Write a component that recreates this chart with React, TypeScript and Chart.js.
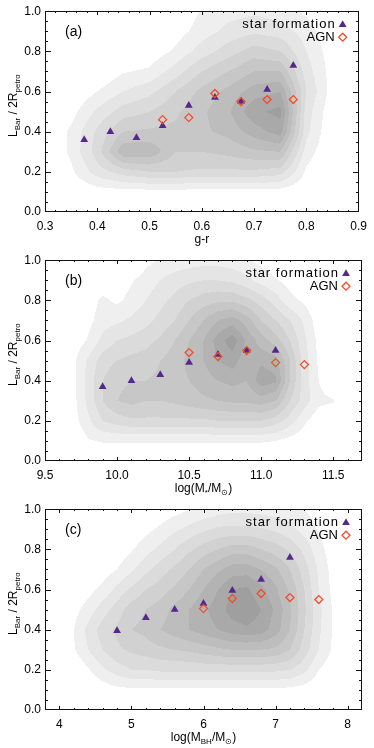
import React, { useEffect, useRef } from "react";
import { Chart, registerables } from "chart.js";

Chart.register(...registerables);

const FONT = "'Liberation Sans', Arial, Helvetica, sans-serif";
const SF_COLOR = "#55288c";
const AGN_COLOR = "#f04e2c";
const GREYS = ["#efefef", "#e5e5e5", "#dbdbdb", "#d1d1d1", "#c7c7c7", "#bdbdbd", "#b3b3b3", "#a9a9a9", "#9f9f9f", "#959595"];

const SF_LABEL = "star formation";
const AGN_LABEL = "AGN";
const Y_TITLE = [
  { t: "L" },
  { t: "Bar", sub: true },
  { t: " / 2R" },
  { t: "petro", sub: true },
];

const yTicks = [0, 0.2, 0.4, 0.6, 0.8, 1.0];
const densityY = [0, 0.1, 0.2, 0.3, 0.4, 0.5, 0.6, 0.7, 0.8, 0.9, 1.0];

// ---------- panel (a): g-r ----------
const grTicks = [0.3, 0.4, 0.5, 0.6, 0.7, 0.8, 0.9];
const grSFx = [0.375, 0.425, 0.475, 0.525, 0.575, 0.625, 0.675, 0.725, 0.775];
const grSFy = [0.36, 0.4, 0.37, 0.43, 0.53, 0.57, 0.55, 0.61, 0.73];
const grAGNx = [0.525, 0.575, 0.625, 0.675, 0.725, 0.775];
const grAGNy = [0.46, 0.47, 0.59, 0.55, 0.56, 0.56];
const grDensityX = [0.3, 0.35, 0.4, 0.45, 0.5, 0.55, 0.6, 0.65, 0.7, 0.75, 0.8, 0.85, 0.9];
const grDensity = [
  [0, 0, 0, 0, 0, 0, 0, 0, 0, 0, 0, 0, 0],
  [0, 0, 0.5, 0.6, 0.6, 0.6, 0.6, 0.6, 0.6, 0.5, 0.2, 0, 0],
  [0, 0.8, 2.5, 3.5, 4, 4, 3.8, 3.8, 3.8, 3.5, 0.8, 0, 0],
  [0, 1.2, 3.5, 6.8, 6.8, 5, 5, 5.3, 5.8, 6, 1.5, 0, 0],
  [0, 1.2, 3.2, 5, 5.2, 5.3, 5.8, 6.3, 7.5, 8.5, 2.3, 0, 0],
  [0, 0.6, 2.2, 3.5, 4, 4.8, 5.8, 6.8, 8.8, 9.3, 2.5, 0.2, 0],
  [0, 0, 1.0, 2, 2.7, 4, 5.3, 6.3, 7.5, 8, 3, 0.5, 0],
  [0, 0, 0, 0.9, 1.2, 2.5, 4, 5, 6, 6, 2.5, 0.5, 0],
  [0, 0, 0, 0, 0.3, 1.2, 2.5, 3.5, 4.5, 4, 2, 0.4, 0],
  [0, 0, 0, 0, 0, 0.5, 1.5, 2.3, 2.8, 2.5, 1.5, 0.2, 0],
  [0, 0, 0, 0, 0, 0, 1.1, 1.6, 1.8, 1.5, 0.8, 0, 0],
];

// ---------- panel (b): stellar mass ----------
const msTicks = [9.5, 10.0, 10.5, 11.0, 11.5];
const msSFx = [9.9, 10.1, 10.3, 10.5, 10.7, 10.9, 11.1];
const msSFy = [0.37, 0.4, 0.43, 0.49, 0.53, 0.55, 0.55];
const msAGNx = [10.5, 10.7, 10.9, 11.1, 11.3];
const msAGNy = [0.54, 0.52, 0.55, 0.49, 0.48];
const msDensityX = [9.5, 9.6, 9.7, 9.8, 9.9, 10.0, 10.1, 10.2, 10.3, 10.4, 10.5, 10.6, 10.7, 10.8, 10.9, 11.0, 11.1, 11.2, 11.3, 11.4, 11.5, 11.6, 11.7];
const msDensity = [
  [0, 0, 0, 0, 0, 0, 0, 0, 0, 0, 0, 0, 0, 0, 0, 0, 0, 0, 0, 0, 0, 0, 0],
  [0, 0, 0, 0.9, 1.1, 1.1, 1.1, 1.1, 1.1, 1.1, 1.1, 1.1, 1.1, 1.1, 1.1, 1.1, 1.0, 0.6, 0.3, 0, 0, 0, 0],
  [0, 0, 0.6, 1.8, 3, 3.5, 3.8, 3.8, 3.8, 3.8, 3.8, 3.8, 4, 4, 4, 4, 3.5, 2.5, 1.2, 0.3, 0, 0, 0],
  [0, 0, 0.7, 2.3, 4, 5, 5.3, 5, 5, 5.2, 5.5, 5.8, 6, 6.2, 6.2, 6.5, 6, 4, 2.5, 1.3, 1.1, 0, 0],
  [0, 0, 0.8, 2.4, 4, 4.8, 5, 5, 5.2, 5.5, 6, 6.5, 7, 7.3, 7, 8.6, 8.2, 5, 2.5, 1.0, 0, 0, 0],
  [0, 0, 0.8, 2.2, 3.5, 4, 4.3, 4.5, 5, 5.5, 6.3, 7, 8, 8.5, 7.3, 7.8, 7.5, 5, 2.5, 0.8, 0, 0, 0],
  [0, 0, 0.4, 1.1, 2.3, 3, 3.3, 3.6, 4.2, 5, 6, 7, 8.5, 9.6, 7.8, 6.5, 5.5, 4, 2.2, 0.7, 0, 0, 0],
  [0, 0, 0, 0.7, 1.5, 1.8, 2.2, 2.7, 3.3, 4, 5, 6, 7, 7.5, 6.5, 5, 4, 3, 1.8, 0.4, 0, 0, 0],
  [0, 0, 0, 0.5, 1.2, 0.8, 1.3, 2, 2.7, 3.3, 4, 4.5, 4.8, 4.8, 4.3, 3.5, 2.5, 1.3, 0.8, 0, 0, 0, 0],
  [0, 0, 0, 0, 0.3, 0.5, 0.9, 1.4, 2, 2.5, 2.8, 3, 3, 2.8, 2.3, 1.6, 1.1, 0.6, 0.2, 0, 0, 0, 0],
  [0, 0, 0, 0, 0, 0, 0, 0.7, 1.1, 1.3, 1.5, 1.6, 1.6, 1.4, 1.1, 0.7, 0.3, 0, 0, 0, 0, 0, 0],
];

// ---------- panel (c): black hole mass ----------
const bhTicks = [4, 5, 6, 7, 8];
const bhSFx = [4.8, 5.2, 5.6, 6.0, 6.4, 6.8, 7.2];
const bhSFy = [0.395, 0.46, 0.5, 0.53, 0.595, 0.65, 0.76];
const bhAGNx = [6.0, 6.4, 6.8, 7.2, 7.6];
const bhAGNy = [0.505, 0.555, 0.58, 0.56, 0.55];
const bhDensityX = [3.8, 4.0, 4.2, 4.4, 4.6, 4.8, 5.0, 5.2, 5.4, 5.6, 5.8, 6.0, 6.2, 6.4, 6.6, 6.8, 7.0, 7.2, 7.4, 7.6, 7.8, 8.0, 8.2];
const bhDensity = [
  [0, 0, 0, 0, 0, 0, 0, 0, 0, 0, 0, 0, 0, 0, 0, 0, 0, 0, 0, 0, 0, 0, 0],
  [0, 0, 0, 0, 0.4, 0.7, 0.8, 0.8, 0.8, 0.8, 0.8, 0.8, 0.8, 0.8, 0.8, 0.8, 0.8, 0.7, 0.5, 0.2, 0, 0, 0],
  [0, 0, 0, 0.9, 1.8, 2.5, 3, 3, 3.2, 3.2, 3.2, 3.3, 3.3, 3.3, 3.3, 3.3, 3.2, 3, 2.3, 1.0, 0.3, 0, 0],
  [0, 0, 0.9, 2, 3, 3.8, 4.2, 4.5, 4.8, 5, 5.2, 5.5, 5.8, 6, 6, 6, 5.8, 5, 3.5, 2, 0.8, 0, 0],
  [0, 0, 1.0, 2.3, 3.5, 4.2, 5, 5.3, 6, 6.5, 7, 7.5, 8, 8.5, 8.8, 8.5, 7.5, 6, 4, 2.2, 0.9, 0, 0],
  [0, 0, 0.6, 1.5, 2.5, 3.5, 4.5, 5, 5.5, 6.3, 7, 7.8, 8.5, 9.5, 9.8, 9, 7.8, 6.2, 4.2, 2.3, 0.9, 0, 0],
  [0, 0, 0, 0.6, 1.3, 2.3, 3.2, 4, 4.5, 5.2, 6, 7, 8, 9, 9.2, 8.3, 7.2, 5.8, 4, 2, 0.7, 0, 0],
  [0, 0, 0, 0, 0.4, 1.0, 1.8, 2.7, 3.5, 4.2, 5, 6, 6.8, 7.5, 7.5, 7, 6.2, 5, 3.5, 1.8, 0.6, 0, 0],
  [0, 0, 0, 0, 0, 0.3, 0.9, 1.6, 2.3, 3, 3.8, 4.5, 5, 5.5, 5.5, 5, 4.5, 3.8, 2.7, 1.4, 0.4, 0, 0],
  [0, 0, 0, 0, 0, 0, 0.2, 0.7, 1.2, 1.8, 2.3, 2.8, 3.2, 3.3, 3.3, 3.1, 2.8, 2.3, 1.6, 0.9, 0.2, 0, 0],
  [0, 0, 0, 0, 0, 0, 0, 0, 0.3, 0.6, 0.9, 1.2, 1.5, 1.7, 1.7, 1.6, 1.5, 1.3, 1.0, 0.5, 0, 0, 0],
];

type Seg = { t: string; sub?: boolean };
type Panel = {
  tag: string;
  xMin: number;
  xMax: number;
  xTicks: number[];
  xMinor: number;
  xDec: number;
  xTitle: Seg[];
  sfX: number[];
  sfY: number[];
  agnX: number[];
  agnY: number[];
  gx: number[];
  gz: number[][];
};

const PANELS: Panel[] = [
  {
    tag: "(a)", xMin: 0.3, xMax: 0.9, xTicks: grTicks, xMinor: 0.02, xDec: 1,
    xTitle: [{ t: "g-r" }],
    sfX: grSFx, sfY: grSFy, agnX: grAGNx, agnY: grAGNy, gx: grDensityX, gz: grDensity,
  },
  {
    tag: "(b)", xMin: 9.5, xMax: 11.7, xTicks: msTicks, xMinor: 0.1, xDec: 1,
    xTitle: [{ t: "log(M" }, { t: "*", sub: true }, { t: "/M" }, { t: "\u2299", sub: true }, { t: ")" }],
    sfX: msSFx, sfY: msSFy, agnX: msAGNx, agnY: msAGNy, gx: msDensityX, gz: msDensity,
  },
  {
    tag: "(c)", xMin: 3.8, xMax: 8.2, xTicks: bhTicks, xMinor: 0.2, xDec: 0,
    xTitle: [{ t: "log(M" }, { t: "BH", sub: true }, { t: "/M" }, { t: "\u2299", sub: true }, { t: ")" }],
    sfX: bhSFx, sfY: bhSFy, agnX: bhAGNx, agnY: bhAGNy, gx: bhDensityX, gz: bhDensity,
  },
];

function interp(gx: number[], gy: number[], gz: number[][], x: number, y: number): number {
  if (x < gx[0] || x > gx[gx.length - 1] || y < gy[0] || y > gy[gy.length - 1]) return 0;
  let i = 0;
  while (i < gx.length - 2 && x > gx[i + 1]) i++;
  let j = 0;
  while (j < gy.length - 2 && y > gy[j + 1]) j++;
  const tx = (x - gx[i]) / (gx[i + 1] - gx[i]);
  const ty = (y - gy[j]) / (gy[j + 1] - gy[j]);
  const z00 = gz[j][i], z10 = gz[j][i + 1], z01 = gz[j + 1][i], z11 = gz[j + 1][i + 1];
  return (z00 * (1 - tx) + z10 * tx) * (1 - ty) + (z01 * (1 - tx) + z11 * tx) * ty;
}

function drawSegs(ctx: CanvasRenderingContext2D, segs: Seg[], cx: number, cy: number, size: number) {
  const subSize = Math.round(size * 0.7);
  let total = 0;
  for (const s of segs) {
    ctx.font = `${s.sub ? subSize : size}px ${FONT}`;
    total += ctx.measureText(s.t).width;
  }
  let x = cx - total / 2;
  const base = cy + size * 0.36;
  ctx.textAlign = "left";
  ctx.textBaseline = "alphabetic";
  for (const s of segs) {
    ctx.font = `${s.sub ? subSize : size}px ${FONT}`;
    ctx.fillText(s.t, x, s.sub ? base + size * 0.25 : base);
    x += ctx.measureText(s.t).width;
  }
}

function makePlugin(p: Panel) {
  return {
    id: "panelDecor",
    beforeDatasetsDraw(chart: any) {
      const { ctx, chartArea: a, scales } = chart;
      const xs = scales.x, ys = scales.y;
      const L = Math.round(a.left), T = Math.round(a.top);
      const W = Math.round(a.right) - L, H = Math.round(a.bottom) - T;
      const img = ctx.createImageData(W, H);
      const rgb = GREYS.map((h) => parseInt(h.slice(1, 3), 16));
      const colX: number[] = [];
      for (let px = 0; px < W; px++) colX.push(xs.getValueForPixel(L + px + 0.5));
      for (let py = 0; py < H; py++) {
        const dy = ys.getValueForPixel(T + py + 0.5);
        for (let px = 0; px < W; px++) {
          const v = interp(p.gx, densityY, p.gz, colX[px], dy);
          const lev = Math.min(Math.floor(v), GREYS.length);
          const g = lev >= 1 ? rgb[lev - 1] : 255;
          const k = (py * W + px) * 4;
          img.data[k] = g;
          img.data[k + 1] = g;
          img.data[k + 2] = g;
          img.data[k + 3] = 255;
        }
      }
      ctx.putImageData(img, L, T);
    },
    afterDraw(chart: any) {
      const { ctx, chartArea: a, scales } = chart;
      const xs = scales.x, ys = scales.y;
      const L = Math.round(a.left), T = Math.round(a.top);
      const R = Math.round(a.right) - 1, B = Math.round(a.bottom) - 1;
      ctx.save();
      ctx.fillStyle = "#111";
      // inward ticks on all four sides
      const xTick = (v: number, len: number) => {
        const px = Math.round(xs.getPixelForValue(v));
        if (px <= L || px >= R) return;
        ctx.fillRect(px, B - len + 1, 1, len);
        ctx.fillRect(px, T, 1, len);
      };
      const yTick = (v: number, len: number) => {
        const py = Math.round(ys.getPixelForValue(v));
        if (py <= T || py >= B) return;
        ctx.fillRect(L, py, len, 1);
        ctx.fillRect(R - len + 1, py, len, 1);
      };
      const nMinor = Math.round((p.xMax - p.xMin) / p.xMinor);
      for (let i = 1; i < nMinor; i++) xTick(p.xMin + i * p.xMinor, 2);
      p.xTicks.forEach((v) => xTick(v, 4));
      for (let i = 1; i < 20; i++) yTick(i * 0.05, 3);
      yTicks.forEach((v) => yTick(v, 6));
      // frame
      ctx.fillRect(L, T, R - L + 1, 1);
      ctx.fillRect(L, B, R - L + 1, 1);
      ctx.fillRect(L, T, 1, B - T + 1);
      ctx.fillRect(R, T, 1, B - T + 1);

      ctx.fillStyle = "#000";
      // y title
      ctx.save();
      ctx.translate(13, (a.top + a.bottom) / 2 - 6);
      ctx.rotate(-Math.PI / 2);
      drawSegs(ctx, Y_TITLE, 0, 0, 12);
      ctx.restore();
      // x title
      drawSegs(ctx, p.xTitle, (a.left + a.right) / 2, a.bottom + 27, 12);
      // panel tag
      ctx.font = `14px ${FONT}`;
      ctx.textAlign = "left";
      ctx.textBaseline = "middle";
      ctx.fillText(p.tag, a.left + 20, a.top + 21);
      // legend
      const ds = chart.data.datasets;
      ctx.font = `13px ${FONT}`;
      ctx.textAlign = "right";
      const tx = a.right - 24;
      const mx = a.right - 16;
      const y1 = a.top + 13.5;
      const y2 = a.top + 26;
      (ctx as any).letterSpacing = "1px";
      ctx.fillText(ds[0].label, tx + 1, y1);
      (ctx as any).letterSpacing = "0px";
      ctx.fillText(ds[1].label, tx, y2);
      const r = 4.5;
      ctx.fillStyle = SF_COLOR;
      ctx.beginPath();
      ctx.moveTo(mx, y1 - r);
      ctx.lineTo(mx + r * 0.866, y1 + r / 2);
      ctx.lineTo(mx - r * 0.866, y1 + r / 2);
      ctx.closePath();
      ctx.fill();
      const d = 4;
      ctx.strokeStyle = AGN_COLOR;
      ctx.lineWidth = 1.3;
      ctx.beginPath();
      ctx.moveTo(mx - d, y2);
      ctx.lineTo(mx, y2 - d);
      ctx.lineTo(mx + d, y2);
      ctx.lineTo(mx, y2 + d);
      ctx.closePath();
      ctx.stroke();
      ctx.restore();
    },
  };
}

function PanelChart({ panel, top }: { panel: Panel; top: number }) {
  const ref = useRef<HTMLCanvasElement | null>(null);
  useEffect(() => {
    if (!ref.current) return;
    const p = panel;
    const chart = new Chart(ref.current, {
      type: "scatter",
      data: {
        datasets: [
          {
            label: SF_LABEL,
            data: p.sfX.map((x, i) => ({ x, y: p.sfY[i] })),
            pointStyle: "triangle",
            pointRadius: 4.5,
            backgroundColor: SF_COLOR,
            borderColor: SF_COLOR,
            borderWidth: 0,
            order: 2,
          },
          {
            label: AGN_LABEL,
            data: p.agnX.map((x, i) => ({ x, y: p.agnY[i] })),
            pointStyle: "rectRot",
            pointRadius: 4,
            backgroundColor: "rgba(0,0,0,0)",
            borderColor: AGN_COLOR,
            borderWidth: 1.3,
            order: 1,
          },
        ],
      },
      options: {
        responsive: false,
        animation: false,
        devicePixelRatio: 1,
        events: [],
        layout: { padding: { top: 11, right: 12, bottom: 0, left: 0 } },
        plugins: { legend: { display: false }, tooltip: { enabled: false } },
        scales: {
          x: {
            type: "linear",
            position: "bottom",
            min: p.xMin,
            max: p.xMax,
            afterBuildTicks: (s: any) => {
              s.ticks = p.xTicks.map((v) => ({ value: v }));
            },
            afterFit: (s: any) => {
              s.height = 37;
            },
            grid: { display: false, drawTicks: false },
            border: { display: false },
            ticks: {
              autoSkip: false,
              maxRotation: 0,
              minRotation: 0,
              padding: 7,
              color: "#000",
              font: { family: FONT, size: 12 },
              callback: (v: any) => Number(v).toFixed(p.xDec),
            },
          },
          y: {
            type: "linear",
            min: 0,
            max: 1,
            afterBuildTicks: (s: any) => {
              s.ticks = yTicks.map((v) => ({ value: v }));
            },
            afterFit: (s: any) => {
              s.width = 45;
            },
            grid: { display: false, drawTicks: false },
            border: { display: false },
            ticks: {
              padding: 4,
              color: "#000",
              font: { family: FONT, size: 12 },
              callback: (v: any) => Number(v).toFixed(1),
            },
          },
        },
      },
      plugins: [makePlugin(p)],
    } as any);
    return () => chart.destroy();
  }, [panel]);
  return (
    <canvas
      ref={ref}
      width={374}
      height={249}
      style={{ position: "absolute", left: 0, top, width: 374, height: 249, display: "block" }}
    />
  );
}

export default function App() {
  return (
    <div style={{ position: "absolute", left: 0, top: 0, width: 374, height: 748, background: "#fff" }}>
      {PANELS.map((p, i) => (
        <PanelChart key={p.tag} panel={p} top={i * 249} />
      ))}
    </div>
  );
}
